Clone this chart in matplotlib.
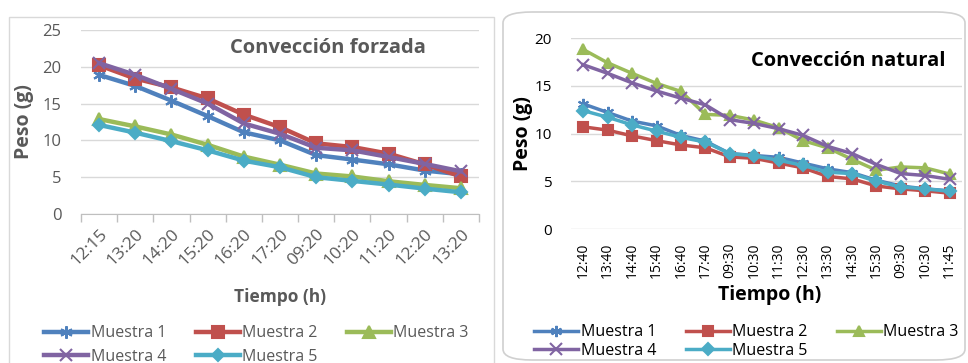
import matplotlib
matplotlib.use("Agg")
import matplotlib.pyplot as plt
from matplotlib.patches import FancyBboxPatch, Rectangle

plt.rcParams['font.family'] = ['Open Sans', 'DejaVu Sans']

# --- datos: convección forzada ---
t_forzada = ["12:15", "13:20", "14:20", "15:20", "16:20", "17:20",
             "09:20", "10:20", "11:20", "12:20", "13:20"]
f_m1 = [18.9, 17.4, 15.4, 13.3, 11.1, 10.0, 8.0, 7.4, 6.75, 5.9, 5.4]
f_m2 = [20.2, 18.4, 17.2, 15.7, 13.5, 11.8, 9.6, 9.1, 8.2, 6.75, 5.1]
f_m3 = [12.9, 11.9, 10.8, 9.4, 7.8, 6.7, 5.5, 5.1, 4.45, 3.95, 3.5]
f_m4 = [20.5, 18.9, 17.0, 15.0, 12.3, 10.9, 9.0, 8.65, 7.75, 6.8, 5.8]
f_m5 = [12.1, 11.05, 9.9, 8.65, 7.25, 6.35, 5.0, 4.5, 4.0, 3.45, 2.95]

# --- datos: convección natural ---
t_natural = ["12:40", "13:40", "14:40", "15:40", "16:40", "17:40", "09:30", "10:30",
             "11:30", "12:30", "13:30", "14:30", "15:30", "09:30", "10:30", "11:45"]
n_m1 = [13.1, 12.2, 11.3, 10.8, 9.8, 9.2, 7.9, 7.7, 7.5, 6.9, 6.3, 5.9, 5.1, 4.5, 4.2, 4.0]
n_m2 = [10.7, 10.35, 9.75, 9.25, 8.8, 8.5, 7.55, 7.4, 6.9, 6.4, 5.5, 5.25, 4.5, 4.2, 4.0, 3.75]
n_m3 = [18.8, 17.4, 16.3, 15.25, 14.4, 12.0, 11.9, 11.4, 10.6, 9.25, 8.5, 7.3, 6.15, 6.5, 6.4, 5.75]
n_m4 = [17.2, 16.3, 15.3, 14.45, 13.7, 13.0, 11.45, 11.05, 10.5, 9.8, 8.65, 7.9, 6.75, 5.8, 5.6, 5.2]
n_m5 = [12.4, 11.7, 10.9, 10.25, 9.6, 9.1, 7.9, 7.65, 7.2, 6.65, 5.95, 5.8, 5.0, 4.4, 4.2, 3.95]

nombres = ["Muestra 1", "Muestra 2", "Muestra 3", "Muestra 4", "Muestra 5"]
colores = ["#4F81BD", "#C0504D", "#9BBB59", "#8064A2", "#4BACC6"]
marcadores = [(6, 2, 0), "s", "^", "x", "D"]
tamanos = [9, 8, 8, 9, 6.5]

W, H = 968, 363
fig = plt.figure(figsize=(W / 100, H / 100), dpi=100)

# marcos de los dos graficos
fig.patches.append(Rectangle((9 / W, -0.1), 485 / W, 1.1 - 17 / H, transform=fig.transFigure,
                             fill=False, edgecolor="#D9D9D9", linewidth=1, zorder=-1))
fig.patches.append(FancyBboxPatch((503 / W, 3 / H), 462 / W, 348 / H,
                                  boxstyle="round,pad=0,rounding_size=0.03",
                                  transform=fig.transFigure, fill=False,
                                  edgecolor="#D0D0D0", linewidth=1.2, zorder=-1))


def dibujar(ax, etiquetas, series, lw, ms_scale):
    x = list(range(len(etiquetas)))
    lineas = []
    for s, nom, c, m, ms in zip(series, nombres, colores, marcadores, tamanos):
        ln, = ax.plot(x, s, color=c, lw=lw, marker=m, markersize=ms * ms_scale,
                      markeredgecolor=c, markerfacecolor=c, markeredgewidth=1.5, label=nom)
        lineas.append(ln)
    ax.set_xlim(-0.5, len(etiquetas) - 0.5)
    ax.set_xticks(x)
    for sp in ["top", "right", "left"]:
        ax.spines[sp].set_visible(False)
    ax.grid(axis="y", color="#D9D9D9", lw=1)
    ax.set_axisbelow(True)
    return lineas


# ---------- izquierda ----------
gris = "#595959"
ax1 = fig.add_axes([81 / W, 1 - 214 / H, 398 / W, 184 / H])
l1 = dibujar(ax1, t_forzada, [f_m1, f_m2, f_m3, f_m4, f_m5], 3.2, 1.0)
ax1.set_ylim(0, 25)
ax1.set_yticks([0, 5, 10, 15, 20, 25])
ax1.set_xticklabels(t_forzada, rotation=45, ha="right", va="top", rotation_mode="anchor")
ax1.set_xticks([i - 0.5 for i in range(len(t_forzada) + 1)], minor=True)
ax1.tick_params(axis="x", which="major", length=0, pad=9, labelsize=12.5, labelcolor=gris)
ax1.tick_params(axis="x", which="minor", length=6, color="#BFBFBF", width=1)
ax1.tick_params(axis="y", length=0, pad=14, labelsize=12, labelcolor=gris)
ax1.spines["bottom"].set_color("#BFBFBF")
ax1.text(0.62, 0.90, "Convección forzada", transform=ax1.transAxes, ha="center", va="center",
         fontsize=14.5, fontweight="bold", color=gris)
ax1.set_ylabel("Peso (g)", fontsize=14, fontweight="bold", color=gris, labelpad=6)
fig.text(280 / W, 1 - 297 / H, "Tiempo (h)", ha="center", va="center",
         fontsize=12.5, fontweight="bold", color=gris)
orden = [0, 3, 1, 4, 2]
leg1 = fig.legend([l1[i] for i in orden], [nombres[i] for i in orden], ncol=3,
                  loc="upper left", bbox_to_anchor=(38 / W, 1 - 319 / H), frameon=False,
                  fontsize=11.5, handlelength=2.75, handletextpad=0.15, columnspacing=1.85,
                  labelspacing=0.45, borderaxespad=0)
for t in leg1.get_texts():
    t.set_color(gris)

# ---------- derecha ----------
ax2 = fig.add_axes([571 / W, 1 - 229 / H, 391 / W, 191 / H])
l2 = dibujar(ax2, t_natural, [n_m1, n_m2, n_m3, n_m4, n_m5], 2.5, 0.9)
ax2.set_ylim(0, 20)
ax2.set_yticks([0, 5, 10, 15, 20])
ax2.spines["bottom"].set_visible(False)
ax2.set_xticklabels(t_natural, rotation=90, ha="center", va="top")
ax2.tick_params(axis="x", length=0, pad=10, labelsize=10, labelcolor="black")
ax2.tick_params(axis="y", length=0, pad=14, labelsize=11, labelcolor="black")
ax2.text(0.71, 0.88, "Convección natural", transform=ax2.transAxes, ha="center", va="center",
         fontsize=14.5, fontweight="bold", color="black")
ax2.set_ylabel("Peso (g)", fontsize=14, fontweight="bold", color="black", labelpad=1)
fig.text(770 / W, 1 - 295 / H, "Tiempo (h)", ha="center", va="center",
         fontsize=14, fontweight="bold", color="black")
leg2 = fig.legend([l2[i] for i in orden], [nombres[i] for i in orden], ncol=3,
                  loc="upper left", bbox_to_anchor=(528 / W, 1 - 318 / H), frameon=False,
                  fontsize=11.5, handlelength=2.75, handletextpad=0.15, columnspacing=1.85,
                  labelspacing=0.15, borderaxespad=0)

fig.savefig("out.png", dpi=100)
